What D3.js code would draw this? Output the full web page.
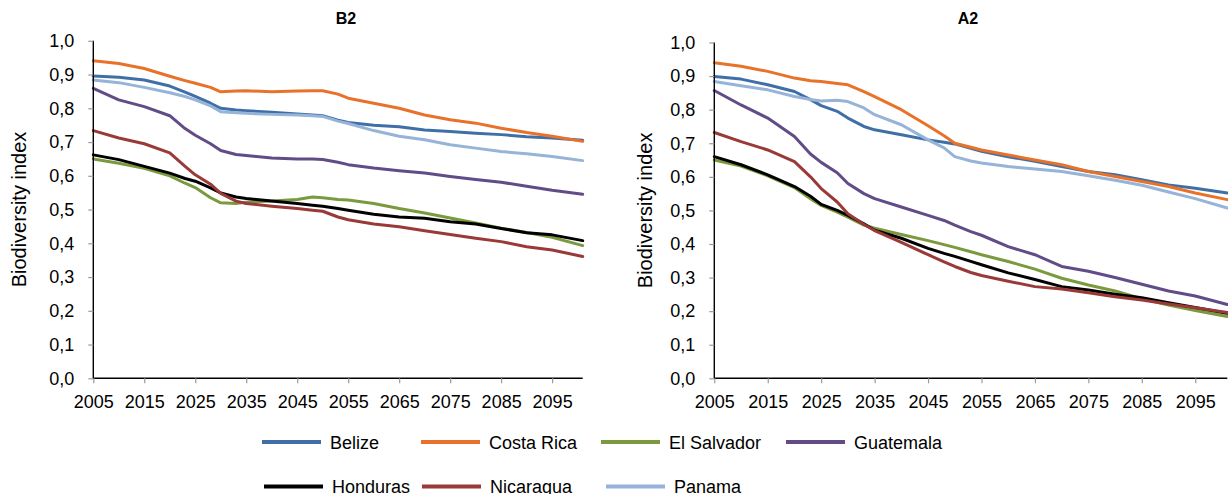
<!DOCTYPE html>
<html>
<head>
<meta charset="utf-8">
<script src="https://cdn.jsdelivr.net/npm/d3@7"></script>
<style>
  html, body { margin: 0; padding: 0; background: #fff; }
  svg { display: block; font-family: "Liberation Sans", Arial, sans-serif; }
</style>
</head>
<body>
<svg id="chart" width="1228" height="494"></svg>
<script>
// ---------- data ----------
const years = [2005, 2010, 2015, 2020, 2023, 2025, 2028, 2030, 2033, 2035, 2040, 2045, 2048, 2050, 2053, 2055, 2060, 2065, 2070, 2075, 2080, 2085, 2090, 2095, 2101];
const countries = ["Belize", "Costa Rica", "El Salvador", "Guatemala", "Honduras", "Nicaragua", "Panama"];
const colors = ["#3F6FA7", "#E8722A", "#7A9A3D", "#614C87", "#000000", "#9A3A38", "#96B3D8"];
const xTickLabels = [2005, 2015, 2025, 2035, 2045, 2055, 2065, 2075, 2085, 2095];
const yTickLabels = [0, 0.1, 0.2, 0.3, 0.4, 0.5, 0.6, 0.7, 0.8, 0.9, 1.0];
const panelTitles = ["B2", "A2"];
const yAxisTitle = "Biodiversity index";

// Scenario B2
const b2Belize     = [.896, .892, .884, .866, .848, .835, .815, .800, .795, .793, .788, .783, .780, .778, .765, .758, .750, .745, .736, .731, .726, .722, .716, .712, .705];
const b2CostaRica  = [.941, .933, .918, .895, .882, .874, .862, .849, .851, .852, .849, .851, .852, .852, .842, .830, .815, .800, .780, .766, .756, .741, .728, .717, .702];
const b2ElSalvador = [.650, .637, .622, .600, .578, .565, .535, .520, .518, .522, .525, .530, .537, .535, .530, .528, .518, .503, .490, .475, .460, .445, .432, .418, .393];
const b2Guatemala  = [.859, .825, .805, .778, .740, .720, .695, .675, .663, .660, .653, .650, .650, .648, .640, .633, .623, .615, .608, .598, .589, .581, .569, .557, .545];
const b2Honduras   = [.662, .648, .628, .608, .592, .584, .564, .549, .537, .533, .525, .518, .513, .510, .503, .498, .486, .478, .474, .464, .457, .444, .431, .425, .408];
const b2Nicaragua  = [.734, .712, .695, .668, .628, .603, .575, .548, .525, .518, .510, .503, .498, .495, .478, .470, .457, .449, .437, .426, .415, .405, .390, .380, .361];
const b2Panama     = [.884, .876, .862, .846, .835, .825, .807, .790, .787, .785, .782, .780, .778, .776, .762, .755, .734, .717, .707, .692, .682, .672, .665, .657, .645];

// Scenario A2
const a2Belize     = [.899, .891, .874, .854, .830, .812, .795, .775, .750, .740, .725, .710, .703, .698, .685, .676, .660, .646, .631, .616, .606, .591, .576, .566, .552];
const a2CostaRica  = [.940, .929, .914, .894, .886, .884, .878, .874, .854, .839, .800, .752, .722, .700, .688, .680, .665, .650, .636, .616, .601, .586, .571, .552, .532];
const a2ElSalvador = [.650, .632, .603, .568, .535, .515, .495, .480, .456, .447, .428, .410, .398, .390, .377, .368, .348, .325, .298, .278, .260, .237, .218, .202, .184];
const a2Guatemala  = [.857, .814, .775, .720, .668, .643, .612, .580, .550, .535, .510, .485, .470, .456, .437, .426, .392, .368, .333, .319, .300, .280, .260, .245, .220];
const a2Honduras   = [.660, .636, .606, .571, .542, .518, .500, .485, .460, .441, .417, .387, .372, .363, .348, .338, .314, .294, .273, .263, .250, .240, .225, .211, .194];
const a2Nicaragua  = [.732, .705, .680, .645, .600, .565, .525, .490, .458, .440, .405, .368, .347, .333, .315, .306, .289, .273, .266, .255, .243, .233, .221, .210, .196];
const a2Panama     = [.884, .871, .859, .839, .830, .826, .828, .824, .805, .785, .755, .710, .686, .660, .647, .641, .631, .623, .616, .603, .590, .575, .555, .535, .507];

const b2Series = [b2Belize, b2CostaRica, b2ElSalvador, b2Guatemala, b2Honduras, b2Nicaragua, b2Panama];
const a2Series = [a2Belize, a2CostaRica, a2ElSalvador, a2Guatemala, a2Honduras, a2Nicaragua, a2Panama];

// ---------- layout ----------
const svg = d3.select("#chart");
const fmt = v => d3.format(".1f")(v).replace(".", ",");

const panels = [
  { title: panelTitles[0], series: b2Series, x0: 93.3, x1: 582.7, yTop: 40.8, titleX: 346, yTitleX: 19 },
  { title: panelTitles[1], series: a2Series, x0: 714.3, x1: 1227.3, yTop: 42.5, titleX: 968, yTitleX: 645 }
];
const yBottom = 378.3;

panels.forEach(p => {
  const x = d3.scaleLinear().domain([2005, 2101]).range([p.x0, p.x1]);
  const y = d3.scaleLinear().domain([0, 1]).range([yBottom, p.yTop]);
  const g = svg.append("g");

  // lines
  const line = d3.line().x((d, i) => x(years[i])).y(d => y(d));
  p.series.forEach((s, k) => {
    g.append("path")
      .datum(s)
      .attr("fill", "none")
      .attr("stroke", colors[k])
      .attr("stroke-width", 3)
      .attr("stroke-linejoin", "round")
      .attr("stroke-linecap", "round")
      .attr("d", line);
  });

  // x axis
  const xa = g.append("g")
    .attr("transform", `translate(0,${yBottom})`)
    .call(d3.axisBottom(x).tickValues(xTickLabels).tickSize(5).tickPadding(12).tickFormat(d3.format("d")));
  xa.select(".domain").attr("stroke", "#000").attr("stroke-width", 1.4).attr("d", `M${p.x0},0H${p.x1}`);
  xa.selectAll(".tick line").attr("stroke", "#9a9a9a").attr("stroke-width", 1.2);
  xa.selectAll(".tick text").attr("font-size", 18).attr("fill", "#000").attr("font-family", "Liberation Sans, Arial, sans-serif");

  // y axis
  const ya = g.append("g")
    .attr("transform", `translate(${p.x0},0)`)
    .call(d3.axisLeft(y).tickValues(yTickLabels).tickSize(5).tickPadding(14).tickFormat(fmt));
  ya.select(".domain").attr("stroke", "#000").attr("stroke-width", 1.4).attr("d", `M0,${yBottom}V${p.yTop}`);
  ya.selectAll(".tick line").attr("stroke", "#9a9a9a").attr("stroke-width", 1.2);
  ya.selectAll(".tick text").attr("font-size", 18).attr("fill", "#000").attr("font-family", "Liberation Sans, Arial, sans-serif");

  // titles
  g.append("text")
    .attr("x", p.titleX).attr("y", 24)
    .attr("text-anchor", "middle")
    .attr("font-size", 16).attr("font-weight", "bold")
    .text(p.title);
  g.append("text")
    .attr("transform", `translate(${p.yTitleX},${(yBottom + p.yTop) / 2}) rotate(-90)`)
    .attr("text-anchor", "middle")
    .attr("dominant-baseline", "central")
    .attr("font-size", 20)
    .text(yAxisTitle);
});

// ---------- legend ----------
const legendPos = [
  { lx: 262, ty: 442 }, { lx: 421, ty: 442 }, { lx: 601, ty: 442 }, { lx: 786, ty: 442 },
  { lx: 264, ty: 486.5 }, { lx: 422, ty: 486.5 }, { lx: 606, ty: 486.5 }
];
const lg = svg.append("g");
countries.forEach((c, i) => {
  const pos = legendPos[i];
  lg.append("line")
    .attr("x1", pos.lx).attr("x2", pos.lx + 59)
    .attr("y1", pos.ty).attr("y2", pos.ty)
    .attr("stroke", colors[i]).attr("stroke-width", 4);
  lg.append("text")
    .attr("x", pos.lx + 68).attr("y", pos.ty + 6.5)
    .attr("font-size", 18)
    .text(c);
});
</script>
</body>
</html>
